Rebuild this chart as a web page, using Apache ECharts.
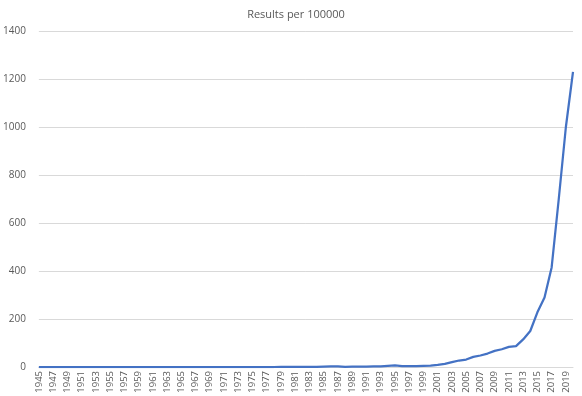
<!DOCTYPE html>
<html><head><meta charset="utf-8">
<script src="https://cdn.jsdelivr.net/npm/echarts@6/dist/echarts.min.js"></script>
<style>html,body{margin:0;padding:0;background:#fff}#c{width:582px;height:396px}</style>
</head><body><div id="c"></div>
<script>
var titleText = "Results per 100000";
var years = [];
for (var y = 1945; y <= 2020; y++) years.push(String(y));
var values = [
  // 1945-1954
  0,0,0,0,0,0,0,0,0,0,
  // 1955-1964
  0,0,0,0,0,0,0,0,0,0,
  // 1965-1974
  0,0,0,0,0,0,0,0,0,0,
  // 1975-1984
  0,0,0,0,1,1,1,1,1,1,
  // 1985-1994
  2,3,3,1,2,2,2,3,3,5,
  // 1995-2004
  7,4,4,4,5,6,9,13,20,27,
  // 2005-2014
  31,42,48,56,67,74,84,87,115,150,
  // 2015-2020
  228,290,415,700,1000,1230
];
var yTicks = [0,200,400,600,800,1000,1200,1400];
var chart = echarts.init(document.getElementById('c'));
chart.setOption({
  animation: false,
  title: { text: titleText, left: 291, top: 4, textAlign: 'center',
    textStyle: { fontFamily: 'Open Sans', fontSize: 11, fontWeight: 'normal', color: '#595959' } },
  grid: { left: 36, right: 9, top: 31, bottom: 29 },
  xAxis: {
    type: 'category', data: years, boundaryGap: false,
    axisLine: { lineStyle: { color: '#d9d9d9' } },
    axisTick: { show: false },
    axisLabel: { interval: 1, rotate: 90, fontSize: 9.5, color: '#595959', fontFamily: 'Open Sans', margin: 4 }
  },
  yAxis: {
    type: 'value', min: yTicks[0], max: yTicks[yTicks.length-1], interval: 200,
    axisLine: { show: false }, axisTick: { show: false },
    splitLine: { lineStyle: { color: '#d9d9d9', width: 1 } },
    axisLabel: { fontSize: 10, color: '#595959', fontFamily: 'Open Sans', margin: 13,
      formatter: function (v) { return String(v); } }
  },
  series: [{
    type: 'line', data: values, symbol: 'none',
    lineStyle: { color: '#4472C4', width: 2.25 }
  }]
});
</script></body></html>
